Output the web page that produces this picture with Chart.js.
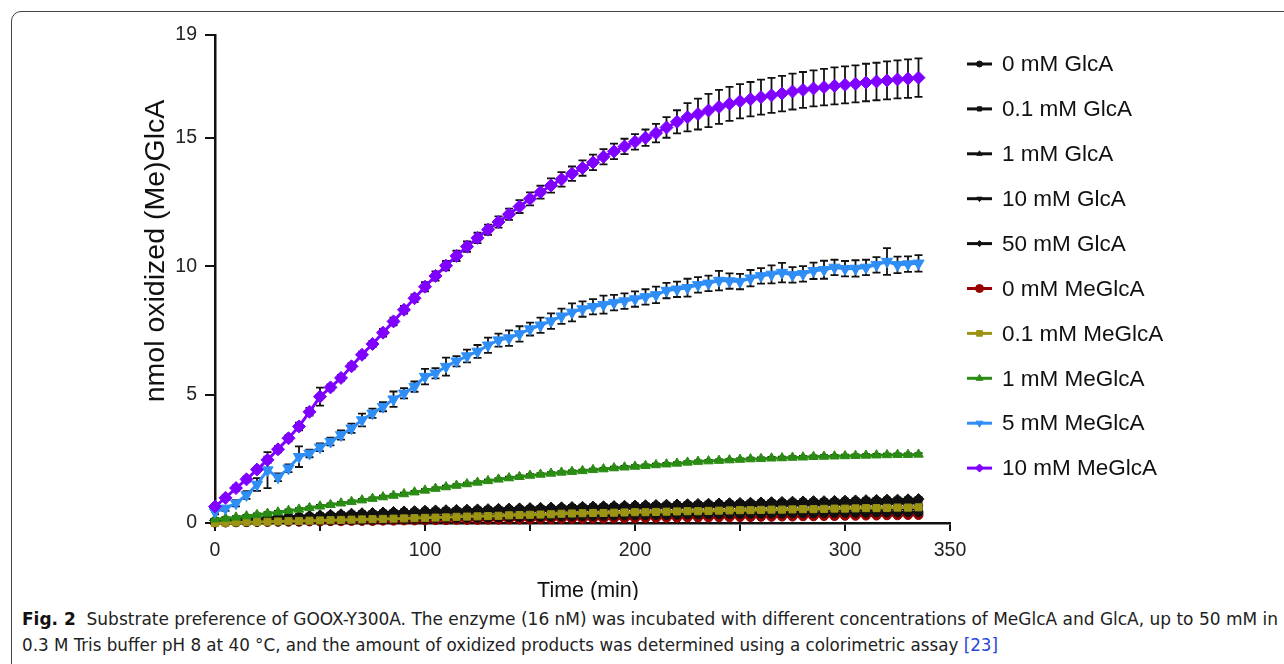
<!DOCTYPE html>
<html>
<head>
  <title>Substrate preference of GOOX-Y300A</title>
  <script src="https://cdn.jsdelivr.net/npm/chart.js"></script>
  <style>
    html, body { margin: 0; padding: 0; background: #fff; }
    body { width: 1284px; height: 664px; overflow: hidden; position: relative; }
    #frame { position: absolute; left: 11px; top: 11px; width: 1400px; height: 800px;
             border: 1px solid #444; border-radius: 10px; box-sizing: border-box; }
    #wrap { position: absolute; left: 0; top: 0; width: 1284px; height: 600px; }
    .cap { position: absolute; left: 22px; white-space: nowrap; transform-origin: 0 50%;
           font-family: "DejaVu Sans Condensed", "DejaVu Sans", sans-serif; font-stretch: condensed;
           font-size: 17px; color: #222; }
    .cap b { font-weight: bold; color: #111; }
    .cap .ref { color: #2a48d8; }
  </style>
</head>
<body>
  <div id="frame"></div>
  <div id="wrap"><canvas id="kinetics" width="1284" height="600"></canvas></div>
  <div class="cap" id="cap1" style="top:609px"><b>Fig. 2</b>&nbsp; Substrate preference of GOOX-Y300A. The enzyme (16 nM) was incubated with different concentrations of MeGlcA and GlcA, up to 50 mM in</div>
  <div class="cap" id="cap2" style="top:635px">0.3 M Tris buffer pH 8 at 40 °C, and the amount of oxidized products was determined using a colorimetric assay <span class="ref">[23]</span></div>

  <script>
    // sampling times (min)
    const times = [0,5,10,15,20,25,30,35,40,45,50,55,60,65,70,75,80,85,90,95,
      100,105,110,115,120,125,130,135,140,145,150,155,160,165,170,175,180,185,190,195,
      200,205,210,215,220,225,230,235,240,245,250,255,260,265,270,275,280,285,290,295,
      300,305,310,315,320,325,330,335];

    const yTicks = [0, 5, 10, 15, 19];

    // GlcA series
    const glc0 = [0.02,0.03,0.03,0.04,0.05,0.06,0.06,0.07,0.08,0.09,
      0.09,0.10,0.11,0.12,0.12,0.13,0.14,0.15,0.15,0.16,
      0.17,0.18,0.18,0.19,0.20,0.20,0.21,0.22,0.22,0.23,
      0.24,0.24,0.25,0.26,0.26,0.27,0.27,0.28,0.29,0.29,
      0.30,0.30,0.31,0.31,0.32,0.33,0.33,0.34,0.34,0.35,
      0.35,0.36,0.36,0.37,0.37,0.38,0.38,0.38,0.39,0.39,
      0.40,0.40,0.40,0.41,0.41,0.41,0.42,0.42];
    const glc01 = [0.04,0.05,0.06,0.07,0.08,0.09,0.10,0.11,0.12,0.13,
      0.14,0.15,0.16,0.17,0.18,0.19,0.20,0.21,0.22,0.23,
      0.24,0.25,0.26,0.27,0.27,0.28,0.29,0.30,0.31,0.31,
      0.32,0.33,0.34,0.34,0.35,0.36,0.37,0.37,0.38,0.39,
      0.39,0.40,0.41,0.41,0.42,0.43,0.43,0.44,0.45,0.45,
      0.46,0.46,0.47,0.48,0.48,0.49,0.49,0.50,0.51,0.51,
      0.52,0.52,0.53,0.53,0.54,0.54,0.55,0.55];
    const glc1 = [0.06,0.07,0.09,0.11,0.12,0.14,0.16,0.17,0.19,0.21,
      0.22,0.24,0.25,0.27,0.28,0.30,0.31,0.33,0.34,0.35,
      0.37,0.38,0.39,0.40,0.41,0.42,0.43,0.44,0.45,0.46,
      0.47,0.48,0.49,0.50,0.51,0.52,0.53,0.54,0.55,0.56,
      0.57,0.58,0.59,0.59,0.60,0.61,0.62,0.63,0.63,0.64,
      0.65,0.66,0.67,0.67,0.68,0.69,0.70,0.70,0.71,0.72,
      0.73,0.73,0.74,0.75,0.76,0.76,0.77,0.78];
    const glc10 = [0.08,0.10,0.12,0.13,0.15,0.17,0.19,0.21,0.22,0.24,
      0.26,0.28,0.30,0.31,0.33,0.35,0.36,0.38,0.39,0.41,
      0.42,0.43,0.45,0.46,0.47,0.48,0.49,0.50,0.51,0.52,
      0.53,0.54,0.55,0.56,0.57,0.58,0.59,0.60,0.61,0.62,
      0.63,0.64,0.65,0.66,0.66,0.67,0.68,0.69,0.70,0.71,
      0.72,0.72,0.73,0.74,0.75,0.76,0.76,0.77,0.78,0.79,
      0.80,0.80,0.81,0.82,0.83,0.83,0.84,0.85];
    const glc50 = [0.10,0.12,0.14,0.16,0.18,0.20,0.22,0.24,0.26,0.28,
      0.30,0.32,0.34,0.36,0.38,0.39,0.41,0.43,0.45,0.46,
      0.48,0.49,0.50,0.51,0.52,0.53,0.54,0.55,0.56,0.57,
      0.58,0.59,0.60,0.61,0.62,0.63,0.64,0.65,0.66,0.67,
      0.68,0.69,0.70,0.71,0.72,0.73,0.74,0.75,0.76,0.77,
      0.78,0.79,0.80,0.81,0.82,0.83,0.84,0.85,0.85,0.86,
      0.87,0.88,0.89,0.90,0.91,0.91,0.92,0.93];

    // MeGlcA series
    const meg0 = [0.02,0.02,0.03,0.03,0.04,0.04,0.05,0.05,0.05,0.06,
      0.06,0.07,0.07,0.08,0.08,0.08,0.09,0.09,0.10,0.10,
      0.10,0.11,0.11,0.12,0.12,0.12,0.13,0.13,0.14,0.14,
      0.14,0.15,0.15,0.16,0.16,0.16,0.17,0.17,0.18,0.18,
      0.18,0.19,0.19,0.20,0.20,0.21,0.21,0.21,0.22,0.22,
      0.23,0.23,0.24,0.24,0.25,0.25,0.26,0.26,0.27,0.27,
      0.28,0.28,0.29,0.29,0.30,0.30,0.31,0.31];
    const meg01 = [0.00,0.01,0.02,0.03,0.04,0.05,0.06,0.07,0.08,0.09,
      0.10,0.11,0.12,0.13,0.14,0.15,0.16,0.17,0.18,0.19,
      0.20,0.21,0.22,0.24,0.25,0.26,0.27,0.28,0.30,0.31,
      0.32,0.33,0.34,0.36,0.37,0.38,0.39,0.39,0.40,0.41,
      0.42,0.42,0.43,0.44,0.45,0.46,0.46,0.47,0.48,0.49,
      0.50,0.50,0.51,0.52,0.52,0.53,0.54,0.54,0.55,0.56,
      0.56,0.57,0.58,0.58,0.59,0.60,0.60,0.61];
    const meg1 = [0.15,0.18,0.22,0.27,0.32,0.37,0.42,0.48,0.53,0.59,
      0.65,0.71,0.77,0.83,0.89,0.95,1.01,1.07,1.13,1.20,
      1.27,1.34,1.40,1.46,1.52,1.58,1.64,1.70,1.75,1.80,
      1.85,1.89,1.93,1.97,2.00,2.03,2.07,2.10,2.14,2.17,
      2.20,2.23,2.26,2.29,2.32,2.36,2.39,2.41,2.43,2.45,
      2.47,2.49,2.50,2.52,2.53,2.55,2.56,2.58,2.59,2.60,
      2.61,2.62,2.63,2.64,2.65,2.66,2.66,2.67];
    const meg5 = [0.44,0.57,0.77,1.09,1.50,2.06,1.78,2.13,2.58,2.71,
      2.95,3.17,3.43,3.69,4.01,4.27,4.53,4.82,5.05,5.31,
      5.70,5.83,6.09,6.30,6.50,6.68,6.92,7.12,7.20,7.36,
      7.55,7.70,7.86,8.05,8.20,8.33,8.42,8.50,8.58,8.64,
      8.72,8.80,8.88,9.05,9.10,9.16,9.27,9.33,9.44,9.42,
      9.40,9.53,9.62,9.68,9.75,9.66,9.70,9.82,9.86,9.95,
      9.90,9.91,9.95,10.05,10.18,10.05,10.08,10.11];
    const meg10 = [0.64,0.98,1.36,1.70,2.08,2.46,2.87,3.30,3.76,4.33,
      4.92,5.28,5.65,6.10,6.55,6.97,7.41,7.85,8.30,8.75,
      9.20,9.62,10.02,10.40,10.76,11.10,11.42,11.72,12.02,12.32,
      12.62,12.88,13.14,13.38,13.60,13.82,14.04,14.26,14.47,14.66,
      14.84,15.00,15.18,15.40,15.62,15.80,15.92,16.06,16.20,16.32,
      16.42,16.50,16.58,16.65,16.72,16.80,16.86,16.92,16.97,17.02,
      17.06,17.10,17.15,17.19,17.23,17.27,17.30,17.34];

    // error bars (SD)
    const meg5Sd = [0.10,0.10,0.12,0.15,0.25,0.70,0.15,0.15,0.40,0.15,
      0.15,0.15,0.18,0.18,0.25,0.18,0.18,0.30,0.20,0.20,
      0.30,0.20,0.35,0.20,0.25,0.25,0.30,0.25,0.30,0.30,
      0.25,0.30,0.30,0.30,0.35,0.30,0.30,0.35,0.30,0.30,
      0.30,0.30,0.32,0.30,0.30,0.35,0.30,0.30,0.38,0.30,
      0.30,0.32,0.30,0.35,0.38,0.30,0.30,0.32,0.35,0.30,
      0.30,0.32,0.30,0.30,0.52,0.32,0.30,0.32];
    const meg10Sd = [0.08,0.08,0.10,0.10,0.10,0.12,0.12,0.12,0.15,0.15,
      0.35,0.12,0.12,0.12,0.12,0.12,0.15,0.15,0.15,0.15,
      0.18,0.18,0.18,0.20,0.20,0.20,0.20,0.22,0.22,0.25,
      0.25,0.25,0.28,0.28,0.28,0.30,0.30,0.30,0.30,0.30,
      0.30,0.32,0.36,0.40,0.45,0.55,0.60,0.65,0.66,0.66,
      0.67,0.67,0.68,0.68,0.69,0.70,0.70,0.70,0.71,0.72,
      0.72,0.72,0.73,0.73,0.74,0.74,0.75,0.75];

    const labels = ['0 mM GlcA', '0.1 mM GlcA', '1 mM GlcA', '10 mM GlcA', '50 mM GlcA',
      '0 mM MeGlcA', '0.1 mM MeGlcA', '1 mM MeGlcA', '5 mM MeGlcA', '10 mM MeGlcA'];
    const values = [glc0, glc01, glc1, glc10, glc50, meg0, meg01, meg1, meg5, meg10];
    const errors = [0.08, 0.08, 0.08, 0.08, 0.08, 0.04, 0.05, 0.05, meg5Sd, meg10Sd];
    const colors = ['#111', '#111', '#111', '#111', '#111', '#990000', '#9c9414', '#2b8c14', '#2f8ef5', '#8000ff'];
    const shapes = ['circle', 'rect', 'triangle', 'triangle', 'rectRot', 'circle', 'rect', 'triangle', 'triangle', 'rectRot'];
    const turns = [0, 0, 0, 180, 0, 0, 0, 0, 180, 0];
    const sizes = [4.5, 5, 5, 5, 5.5, 4.5, 5, 5.5, 6.5, 6.5];
    const layers = [5, 6, 7, 8, 9, 10, 4, 3, 1, 0];

    const font = '"Liberation Sans", Arial, sans-serif';

    const errorBars = {
      id: 'errorBars',
      beforeDatasetsDraw(chart) {
        const { ctx, scales: { x, y }, chartArea: a } = chart;
        ctx.save();
        ctx.beginPath();
        ctx.rect(a.left, a.top - 20, a.right - a.left + 20, a.bottom - a.top + 20);
        ctx.clip();
        ctx.strokeStyle = '#111';
        ctx.lineWidth = 1.8;
        chart.data.datasets.forEach(ds => {
          ds.data.forEach((p, j) => {
            const e = Array.isArray(ds.sd) ? ds.sd[j] : ds.sd;
            const px = x.getPixelForValue(p.x);
            const t = y.getPixelForValue(p.y + e);
            const b = y.getPixelForValue(p.y - e);
            ctx.beginPath();
            ctx.moveTo(px, t); ctx.lineTo(px, b);
            ctx.moveTo(px - 4, t); ctx.lineTo(px + 4, t);
            ctx.moveTo(px - 4, b); ctx.lineTo(px + 4, b);
            ctx.stroke();
          });
        });
        ctx.restore();
      }
    };

    const sideLegend = {
      id: 'sideLegend',
      afterDraw(chart) {
        const ctx = chart.ctx;
        ctx.save();
        chart.data.datasets.forEach((ds, i) => {
          const y = 64 + i * 44.9;
          ctx.strokeStyle = ds.borderColor;
          ctx.fillStyle = ds.borderColor;
          ctx.lineWidth = 3;
          ctx.beginPath();
          ctx.moveTo(967, y); ctx.lineTo(992, y);
          ctx.stroke();
          ctx.lineWidth = 1;
          Chart.helpers.drawPoint(ctx, {
            pointStyle: ds.pointStyle, rotation: ds.pointRotation,
            radius: i < 5 ? 3 : 4, borderWidth: 1
          }, 979.5, y);
          ctx.fillStyle = '#111';
          ctx.font = '22.5px ' + font;
          ctx.textBaseline = 'middle';
          ctx.textAlign = 'left';
          ctx.fillText(ds.label, 1002, y + 1);
        });

        // axis titles
        ctx.fillStyle = '#111';
        ctx.font = '21.5px ' + font;
        ctx.textAlign = 'center';
        ctx.fillText('Time (min)', 588, 591);
        ctx.translate(156, 251);
        ctx.rotate(-Math.PI / 2);
        ctx.font = '28.5px ' + font;
        ctx.fillText('nmol oxidized (Me)GlcA', 0, 0);
        ctx.restore();
      }
    };

    const datasets = labels.map((label, i) => ({
      label,
      data: times.map((t, j) => ({ x: t, y: values[i][j] })),
      sd: errors[i],
      borderColor: colors[i],
      backgroundColor: colors[i],
      pointBackgroundColor: colors[i],
      pointBorderColor: colors[i],
      borderWidth: 3,
      pointStyle: shapes[i],
      pointRotation: turns[i],
      pointRadius: sizes[i],
      pointBorderWidth: 1,
      order: layers[i],
      clip: false
    }));

    new Chart(document.getElementById('kinetics').getContext('2d'), {
      type: 'line',
      data: { datasets },
      plugins: [errorBars, sideLegend],
      options: {
        responsive: false,
        animation: false,
        events: [],
        layout: { padding: { left: 0, top: 35, right: 334, bottom: 37 } },
        plugins: { legend: { display: false }, tooltip: { enabled: false } },
        scales: {
          x: {
            type: 'linear', min: 0, max: 350,
            afterFit: s => { s.height = 40; },
            border: { display: true, color: '#111', width: 2.5 },
            grid: { drawOnChartArea: false, drawTicks: true, tickLength: 8, color: '#111', lineWidth: 2 },
            ticks: {
              stepSize: 50, padding: 8, color: '#222', maxRotation: 0, autoSkip: false,
              font: { family: font, size: 19.5 },
              callback: v => (v % 100 === 0 || v === 350) ? v : ''
            }
          },
          y: {
            min: 0, max: 19,
            afterFit: s => { s.width = 215; },
            afterBuildTicks: s => { s.ticks = yTicks.map(v => ({ value: v })); },
            border: { display: true, color: '#111', width: 2.5 },
            grid: { drawOnChartArea: false, drawTicks: true, tickLength: 10, color: '#111', lineWidth: 2 },
            ticks: { padding: 8, color: '#222', font: { family: font, size: 19.5 } }
          }
        }
      }
    });

    // fit caption lines to the printed widths
    [['cap1', 1256], ['cap2', 976]].forEach(([id, w]) => {
      const el = document.getElementById(id);
      el.style.transform = 'scaleX(' + (w / el.getBoundingClientRect().width) + ')';
    });
  </script>
</body>
</html>
